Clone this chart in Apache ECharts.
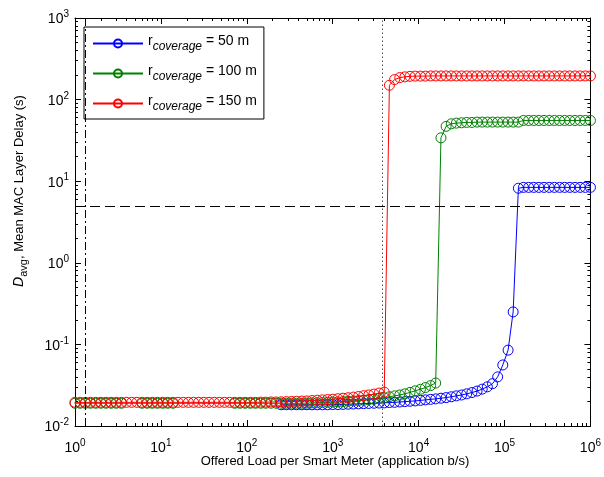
<!DOCTYPE html>
<html>
<head>
<meta charset="utf-8">
<script src="https://cdn.jsdelivr.net/npm/echarts@6/dist/echarts.min.js"></script>
<style>
html,body{margin:0;padding:0;background:#fff;}
#chart{width:604px;height:477px;}
</style>
</head>
<body>
<div id="chart"></div>
<script>
// Offered load per smart meter (application b/s) - sample points
const loads = [
  1,1.15,1.32,1.51,1.74,2,2.29,2.63,3.02,3.47,
  3.98,4.57,5.25,6.03,6.92,7.94,9.12,10.5,12,13.8,
  15.8,18.2,20.9,24,27.5,31.6,36.3,41.7,47.9,55,
  63.1,72.4,83.2,95.5,110,126,145,166,191,219,
  251,288,331,380,437,501,575,661,759,871,
  1000,1150,1320,1510,1740,2000,2290,2630,3020,3470,
  3980,4570,5250,6030,6920,7940,9120,10500,12000,13800,
  15800,18200,20900,24000,27500,31600,36300,41700,47900,55000,
  63100,72400,83200,95500,110000,126000,145000,166000,191000,219000,
  251000,288000,331000,380000,437000,501000,575000,661000,759000,871000,
  1000000
];

// r_coverage = 50 m
const delay50 = [
  null,null,null,null,null,null,null,null,null,null,
  null,null,null,null,null,null,null,null,null,null,
  null,null,null,null,null,null,null,null,null,null,
  null,null,null,null,null,null,null,null,null,null,
  0.0182,0.0182,0.0182,0.0182,0.0182,0.0182,0.0182,0.0182,0.0182,0.0182,
  0.0183,0.0183,0.0184,0.0185,0.0186,0.0187,0.0188,0.0189,0.0190,0.0191,
  0.0192,0.0194,0.0195,0.0197,0.0199,0.0201,0.0203,0.0206,0.0209,0.0212,
  0.0215,0.0219,0.0223,0.0228,0.0234,0.0240,0.0248,0.0257,0.0268,0.0283,
  0.0302,0.0330,0.0400,0.0560,0.0850,0.250,8.2,8.4,8.4,8.4,
  8.4,8.4,8.4,8.4,8.4,8.4,8.4,8.4,8.4,8.4,
  8.4
];

// r_coverage = 100 m
const delay100 = [
  0.019,0.019,0.019,0.019,0.019,0.019,0.019,0.019,0.019,0.019,
  null,null,null,0.019,0.019,0.019,0.019,0.019,0.019,0.019,
  null,null,null,null,null,null,null,null,null,null,
  null,0.019,0.019,0.019,0.019,0.019,0.019,0.019,0.019,0.019,
  0.019,0.019,0.019,0.019,0.019,0.0191,0.0192,0.0193,0.0194,0.0195,
  0.0197,0.0198,0.0199,0.0201,0.0203,0.0205,0.0207,0.0210,0.0213,0.0217,
  0.0222,0.0228,0.0234,0.0240,0.0248,0.0258,0.0270,0.0282,0.0296,0.0313,
  0.0336,34,47,50.5,51.5,52,52.5,52.5,53,53,
  53,53,53,53,53,53,53,55.5,55.5,55.5,
  55.5,55.5,55.5,55.5,55.5,55.5,55.5,55.5,55.5,55.5,
  55.5
];

// r_coverage = 150 m
const delay150 = [
  0.0195,0.0195,0.0195,0.0195,0.0195,0.0195,0.0195,0.0195,0.0195,0.0195,
  0.0195,0.0195,0.0195,0.0195,0.0195,0.0195,0.0195,0.0195,0.0195,0.0195,
  0.0195,0.0195,0.0195,0.0195,0.0195,0.0195,0.0195,0.0195,0.0195,0.0195,
  0.0195,0.0195,0.0195,0.0195,0.0195,0.0195,0.0196,0.0196,0.0197,0.0197,
  0.0198,0.0199,0.0200,0.0201,0.0202,0.0203,0.0205,0.0207,0.0209,0.0211,
  0.0213,0.0216,0.0219,0.0222,0.0226,0.0230,0.0235,0.0240,0.0246,0.0253,
  0.0260,150,176,186,190,193,194,194,194,195,
  195,195,195,195,195,195,195,195,195,195,
  195,195,195,195,195,195,195,195,195,195,
  195,195,195,195,195,195,195,195,195,195,
  195
];

const seriesNames = ['r_coverage = 50 m', 'r_coverage = 100 m', 'r_coverage = 150 m'];
const seriesColors = ['#0000ff', '#008000', '#ff0000'];
const refLoadLeft = 1.33;     // dash-dot vertical line
const refLoadMid = 3730;      // dotted vertical line
const refDelay = 5;           // dashed horizontal line

const FONT = '"Liberation Sans", Arial, Helvetica, sans-serif';

function pairs(xs, ys) {
  const out = [];
  for (let i = 0; i < xs.length; i++) {
    if (ys[i] != null) out.push([xs[i], ys[i]]);
  }
  return out;
}

const minorX = [];
for (let d = 0; d < 6; d++) for (let m = 2; m <= 9; m++) minorX.push(d + Math.log10(m));
const minorY = [];
for (let d = -2; d < 3; d++) for (let m = 2; m <= 9; m++) minorY.push(d + Math.log10(m));

const tickRich = {
  b: { fontSize: 14, fontFamily: FONT, color: '#000', verticalAlign: 'bottom' },
  s: { fontSize: 10, fontFamily: FONT, color: '#000', verticalAlign: 'top', padding: [0, 0, 7, 0] }
};
function expLabel(v) {
  const e = Math.round(Math.log10(v));
  return '{b|10}{s|' + e + '}';
}

const dataSets = [delay50, delay100, delay150];
const series = dataSets.map((d, i) => ({
  name: seriesNames[i],
  type: 'line',
  xAxisIndex: 0,
  yAxisIndex: 0,
  data: pairs(loads, d),
  symbol: 'circle',
  symbolSize: 10,
  showAllSymbol: true,
  itemStyle: { color: 'rgba(0,0,0,0)', borderColor: seriesColors[i], borderWidth: 1 },
  lineStyle: { color: seriesColors[i], width: 1 },
  emphasis: { disabled: true },
  animation: false,
  z: 2 + i
}));

series[2].markLine = {
  silent: true,
  symbol: 'none',
  animation: false,
  label: { show: false },
  lineStyle: { color: '#000', width: 1 },
  data: [
    { xAxis: refLoadLeft, lineStyle: { color: '#000', width: 1, type: [8, 3, 2, 3] } },
    { xAxis: refLoadMid, lineStyle: { color: '#555', width: 1, type: [1.5, 2.5] } },
    { yAxis: refDelay, lineStyle: { color: '#000', width: 1, type: [10, 5] } }
  ]
};

const axisLineStyle = { color: '#000', width: 1 };

const option = {
  animation: false,
  backgroundColor: '#fff',
  grid: { left: 75, right: 10, top: 18, bottom: 51, containLabel: false },
  xAxis: [
    {
      type: 'log', logBase: 10, min: 1, max: 1000000, interval: 1,
      position: 'bottom',
      axisLine: { show: true, onZero: false, lineStyle: axisLineStyle },
      axisTick: { show: true, inside: true, length: 6, lineStyle: axisLineStyle },
      axisLabel: { margin: 12, formatter: expLabel, rich: tickRich },
      splitLine: { show: false }, minorTick: { show: false }
    },
    {
      type: 'value', min: 0, max: 6, position: 'bottom',
      axisLine: { show: false, onZero: false },
      axisTick: { show: true, inside: true, length: 3, customValues: minorX, lineStyle: axisLineStyle },
      axisLabel: { show: false }, splitLine: { show: false }
    },
    {
      type: 'value', min: 0, max: 6, interval: 1, position: 'top',
      axisLine: { show: true, onZero: false, lineStyle: axisLineStyle },
      axisTick: { show: true, inside: true, length: 6, lineStyle: axisLineStyle },
      axisLabel: { show: false }, splitLine: { show: false }
    },
    {
      type: 'value', min: 0, max: 6, position: 'top',
      axisLine: { show: false, onZero: false },
      axisTick: { show: true, inside: true, length: 3, customValues: minorX, lineStyle: axisLineStyle },
      axisLabel: { show: false }, splitLine: { show: false }
    }
  ],
  yAxis: [
    {
      type: 'log', logBase: 10, min: 0.01, max: 1000, interval: 1,
      position: 'left',
      axisLine: { show: true, onZero: false, lineStyle: axisLineStyle },
      axisTick: { show: true, inside: true, length: 6, lineStyle: axisLineStyle },
      axisLabel: { margin: 6, formatter: expLabel, rich: tickRich },
      splitLine: { show: false }, minorTick: { show: false }
    },
    {
      type: 'value', min: -2, max: 3, position: 'left',
      axisLine: { show: false, onZero: false },
      axisTick: { show: true, inside: true, length: 3, customValues: minorY, lineStyle: axisLineStyle },
      axisLabel: { show: false }, splitLine: { show: false }
    },
    {
      type: 'value', min: -2, max: 3, interval: 1, position: 'right',
      axisLine: { show: true, onZero: false, lineStyle: axisLineStyle },
      axisTick: { show: true, inside: true, length: 6, lineStyle: axisLineStyle },
      axisLabel: { show: false }, splitLine: { show: false }
    },
    {
      type: 'value', min: -2, max: 3, position: 'right',
      axisLine: { show: false, onZero: false },
      axisTick: { show: true, inside: true, length: 3, customValues: minorY, lineStyle: axisLineStyle },
      axisLabel: { show: false }, splitLine: { show: false }
    }
  ],
  legend: {
    orient: 'vertical',
    left: 84, top: 27,
    padding: [7, 7, 6, 8],
    itemGap: 11,
    itemWidth: 50,
    itemHeight: 10,
    borderColor: '#000', borderWidth: 1, borderRadius: 0,
    backgroundColor: '#fff',
    data: seriesNames,
    formatter: function (n) {
      return '{r|r}{sub|coverage}{r|' + n.split('coverage')[1] + '}';
    },
    textStyle: {
      color: '#000',
      rich: {
        r: { fontSize: 14, fontFamily: FONT, color: '#000', verticalAlign: 'top', lineHeight: 16 },
        sub: { fontSize: 12, fontFamily: FONT, fontStyle: 'italic', color: '#000', verticalAlign: 'bottom', padding: [7, 0, 0, 0] }
      }
    }
  },
  graphic: [
    {
      type: 'text', x: 335, y: 461, silent: true,
      style: { text: 'Offered Load per Smart Meter (application b/s)', font: '13px ' + FONT, fill: '#000', align: 'center', verticalAlign: 'middle' }
    },
    {
      type: 'text', x: 21, y: 191, rotation: Math.PI / 2, silent: true,
      style: {
        text: '{d|D}{sub|avg}{n|, Mean MAC Layer Delay (s)}',
        align: 'center', verticalAlign: 'middle',
        rich: {
          d: { fontSize: 14, fontFamily: FONT, fontStyle: 'italic', fill: '#000', verticalAlign: 'top', lineHeight: 15 },
          sub: { fontSize: 11, fontFamily: FONT, fill: '#000', verticalAlign: 'bottom', padding: [6, 0, 0, 0] },
          n: { fontSize: 13, fontFamily: FONT, fill: '#000', verticalAlign: 'top', lineHeight: 15 }
        }
      }
    }
  ],
  series: series
};

const chart = echarts.init(document.getElementById('chart'), null, { renderer: 'canvas' });
chart.setOption(option);
</script>
</body>
</html>
